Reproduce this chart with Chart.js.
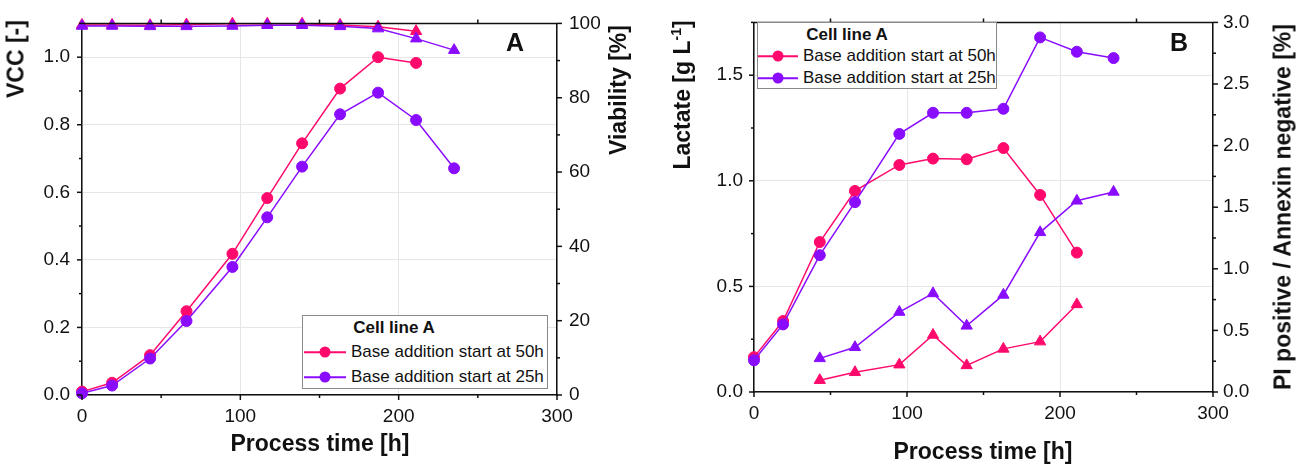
<!DOCTYPE html>
<html>
<head>
<meta charset="utf-8">
<script src="https://cdn.jsdelivr.net/npm/chart.js@4.4.1/dist/chart.umd.min.js"></script>
<style>
  body { margin: 0; background: #fff; }
  #page { position: relative; width: 1297px; height: 466px; font-family: "Liberation Sans", Arial, sans-serif; color: #111; }
  canvas { position: absolute; top: 0; }
  .title { position: absolute; font-weight: bold; font-size: 23px; white-space: nowrap; transform: translate(-50%, -50%); }
  .rot { transform: translate(-50%, -50%) rotate(-90deg); }
  .title sup { font-size: 14px; }
  .panel { position: absolute; font-weight: bold; font-size: 25px; transform: translate(-50%, -50%); }
  .legbox { position: absolute; border: 1px solid #8a8a8a; background: #fff; box-sizing: border-box; }
  .legtxt { position: absolute; font-size: 17px; white-space: nowrap; transform: translateY(-50%); }
  .leghead { position: absolute; font-size: 17px; font-weight: bold; white-space: nowrap; transform: translate(-50%, -50%); }
  .legline { position: absolute; height: 1.5px; transform: translateY(-50%); }
  .legdot { position: absolute; width: 11px; height: 11px; border-radius: 50%; transform: translate(-50%, -50%); }
</style>
</head>
<body>
<div id="page">
  <canvas id="chartA" width="650" height="466" style="left:0"></canvas>
  <canvas id="chartB" width="647" height="466" style="left:650px"></canvas>

  <div class="title rot" style="left:16px;top:59px">VCC [-]</div>
  <div class="title rot" style="left:618px;top:90px">Viability [%]</div>
  <div class="title" style="left:320px;top:443px">Process time [h]</div>
  <div class="panel" style="left:515px;top:42px">A</div>

  <div class="title rot" style="left:682px;top:95px">Lactate [g L<sup>-1</sup>]</div>
  <div class="title rot" style="left:1283px;top:207px">PI positive / Annexin negative [%]</div>
  <div class="title" style="left:983px;top:451px">Process time [h]</div>
  <div class="panel" style="left:1179px;top:42px">B</div>

  <div id="legends"></div>
</div>

<script>
// sampling times [h]
const hours = [0, 19, 43, 66, 95, 117, 139, 163, 187, 211, 235];

// panel A
const vcc50 = [0.010, 0.036, 0.118, 0.248, 0.418, 0.583, 0.745, 0.907, 1.0, 0.983];
const vcc25 = [0.005, 0.028, 0.108, 0.219, 0.379, 0.526, 0.676, 0.831, 0.895, 0.814, 0.671];
const via50 = [99.6, 99.6, 99.5, 99.7, 99.9, 99.9, 99.9, 99.6, 99.1, 97.9];
const via25 = [99.3, 99.3, 99.2, 99.2, 99.3, 99.5, 99.5, 99.2, 98.6, 95.9, 92.8];

// panel B
const lac50 = [0.165, 0.336, 0.71, 0.952, 1.075, 1.105, 1.102, 1.155, 0.933, 0.66];
const lac25 = [0.15, 0.32, 0.648, 0.899, 1.222, 1.322, 1.322, 1.341, 1.679, 1.611, 1.581];
const piHours = hours.slice(2);
const pi50 = [0.096, 0.16, 0.222, 0.463, 0.216, 0.35, 0.409, 0.711];
const pi25 = [0.273, 0.363, 0.649, 0.80, 0.537, 0.788, 1.296, 1.552, 1.624];

const seriesNames = ['Base addition start at 50h', 'Base addition start at 25h'];
const pink = '#ff0a6c';
const purple = '#8a0cff';

const pts = (xs, ys) => ys.map((y, i) => ({ x: xs[i], y: y }));

function ds(data, color, axis, style, order) {
    return {
        data: data,
        yAxisID: axis,
        borderColor: color,
        backgroundColor: color,
        borderWidth: 1.5,
        pointStyle: style,
        pointRadius: style === 'triangle' ? 6.5 : 5.5,
        pointHoverRadius: 6,
        pointBorderWidth: 1,
        tension: 0,
        clip: false,
        order: order
    };
}

// outward tick marks, major + minor, plus the closing top border
const axisTicks = {
    id: 'axisTicks',
    afterDraw(chart, args, opts) {
        const ctx = chart.ctx;
        const a = chart.chartArea;
        ctx.save();
        ctx.strokeStyle = '#111';
        ctx.lineWidth = 1.5;
        ctx.beginPath();
        ctx.moveTo(a.left, a.top);
        ctx.lineTo(a.right, a.top);
        ctx.stroke();
        for (const id in opts.steps) {
            const s = chart.scales[id];
            const [major, minor] = opts.steps[id];
            const n = Math.round((s.max - s.min) / minor + 1e-6);
            for (let i = 0; i <= n; i++) {
                const v = s.min + i * minor;
                const isMajor = Math.abs(v / major - Math.round(v / major)) < 1e-6;
                const len = isMajor ? 5 : 3;
                const p = s.getPixelForValue(v);
                ctx.beginPath();
                if (s.position === 'bottom') {
                    ctx.moveTo(p, a.bottom); ctx.lineTo(p, a.bottom + len);
                    if (!isMajor) { ctx.moveTo(p, a.top); ctx.lineTo(p, a.top - 4); }
                } else if (s.position === 'left') {
                    ctx.moveTo(a.left, p); ctx.lineTo(a.left - len, p);
                } else {
                    ctx.moveTo(a.right, p); ctx.lineTo(a.right + len, p);
                }
                ctx.stroke();
            }
        }
        ctx.restore();
    }
};

const tickFont = { family: '"Liberation Sans", Arial, sans-serif', size: 19 };
const gridColor = '#e6e6e6';

function makeChart(id, datasets, box, axes) {
    return new Chart(document.getElementById(id), {
        type: 'line',
        data: { datasets: datasets },
        plugins: [axisTicks],
        options: {
            responsive: false,
            devicePixelRatio: 1,
            animation: false,
            layout: { padding: { top: box.top, left: 0, right: 0, bottom: 0 } },
            plugins: {
                legend: { display: false },
                tooltip: { enabled: false },
                axisTicks: { steps: { x: [100, 50], y: axes.yStep, y2: axes.y2Step } }
            },
            scales: {
                x: {
                    type: 'linear', min: 0, max: 300,
                    ticks: { stepSize: 100, font: tickFont, color: '#111', padding: box.xPad, maxRotation: 0 },
                    grid: { color: gridColor, drawTicks: false },
                    border: { color: '#111', width: 1.5 },
                    afterFit: s => { s.height = box.xHeight; }
                },
                y: {
                    position: 'left', min: 0, max: axes.yMax,
                    ticks: { stepSize: axes.yStep[0], includeBounds: false, font: tickFont, color: '#111', padding: box.yPad,
                        callback: v => v.toFixed(1) },
                    grid: { color: gridColor, drawTicks: false },
                    border: { color: '#111', width: 1.5 },
                    afterFit: s => { s.width = box.yWidth; }
                },
                y2: {
                    position: 'right', min: 0, max: axes.y2Max,
                    ticks: { stepSize: axes.y2Step[0], includeBounds: false, font: tickFont, color: '#111', padding: box.y2Pad,
                        callback: axes.y2Fmt },
                    grid: { display: false, drawTicks: false },
                    border: { color: '#111', width: 1.5 },
                    afterFit: s => { s.width = box.y2Width; }
                }
            }
        }
    });
}

makeChart('chartA', [
    ds(pts(hours, vcc50), pink, 'y', 'circle', 2),
    ds(pts(hours, vcc25), purple, 'y', 'circle', 1),
    ds(pts(hours, via50), pink, 'y2', 'triangle', 2),
    ds(pts(hours, via25), purple, 'y2', 'triangle', 1)
], { top: 23, xHeight: 71, yWidth: 82, y2Width: 93, xPad: 10, yPad: 12, y2Pad: 12 },
   { yMax: 1.1, yStep: [0.2, 0.1], y2Max: 100, y2Step: [20, 10], y2Fmt: v => String(v) });

makeChart('chartB', [
    ds(pts(hours, lac50), pink, 'y', 'circle', 2),
    ds(pts(hours, lac25), purple, 'y', 'circle', 1),
    ds(pts(piHours, pi50), pink, 'y2', 'triangle', 2),
    ds(pts(piHours, pi25), purple, 'y2', 'triangle', 1)
], { top: 17, xHeight: 74, yWidth: 104, y2Width: 84, xPad: 10, yPad: 11, y2Pad: 10 },
   { yMax: 1.75, yStep: [0.5, 0.25], y2Max: 3.0, y2Step: [0.5, 0.25], y2Fmt: v => v.toFixed(1) });

// legends (HTML, placed inside the plot areas)
function legend(box, headX, headY, lineX0, lineX1, textX, rowsY) {
    const root = document.getElementById('legends');
    let html = '<div class="legbox" style="left:' + box[0] + 'px;top:' + box[1] + 'px;width:' + box[2] + 'px;height:' + box[3] + 'px"></div>';
    html += '<div class="leghead" style="left:' + headX + 'px;top:' + headY + 'px">Cell line A</div>';
    [pink, purple].forEach((c, i) => {
        const y = rowsY[i];
        html += '<div class="legline" style="background:' + c + ';left:' + lineX0 + 'px;top:' + y + 'px;width:' + (lineX1 - lineX0) + 'px"></div>';
        html += '<div class="legdot" style="background:' + c + ';left:' + (lineX0 + lineX1) / 2 + 'px;top:' + y + 'px"></div>';
        html += '<div class="legtxt" style="left:' + textX + 'px;top:' + y + 'px">' + seriesNames[i] + '</div>';
    });
    root.insertAdjacentHTML('beforeend', html);
}
legend([302, 315, 246, 74], 394, 328, 304, 346, 351, [352, 377]);
legend([757, 22, 240, 67], 847, 35, 758, 798, 803, [56, 78]);
</script>
</body>
</html>
